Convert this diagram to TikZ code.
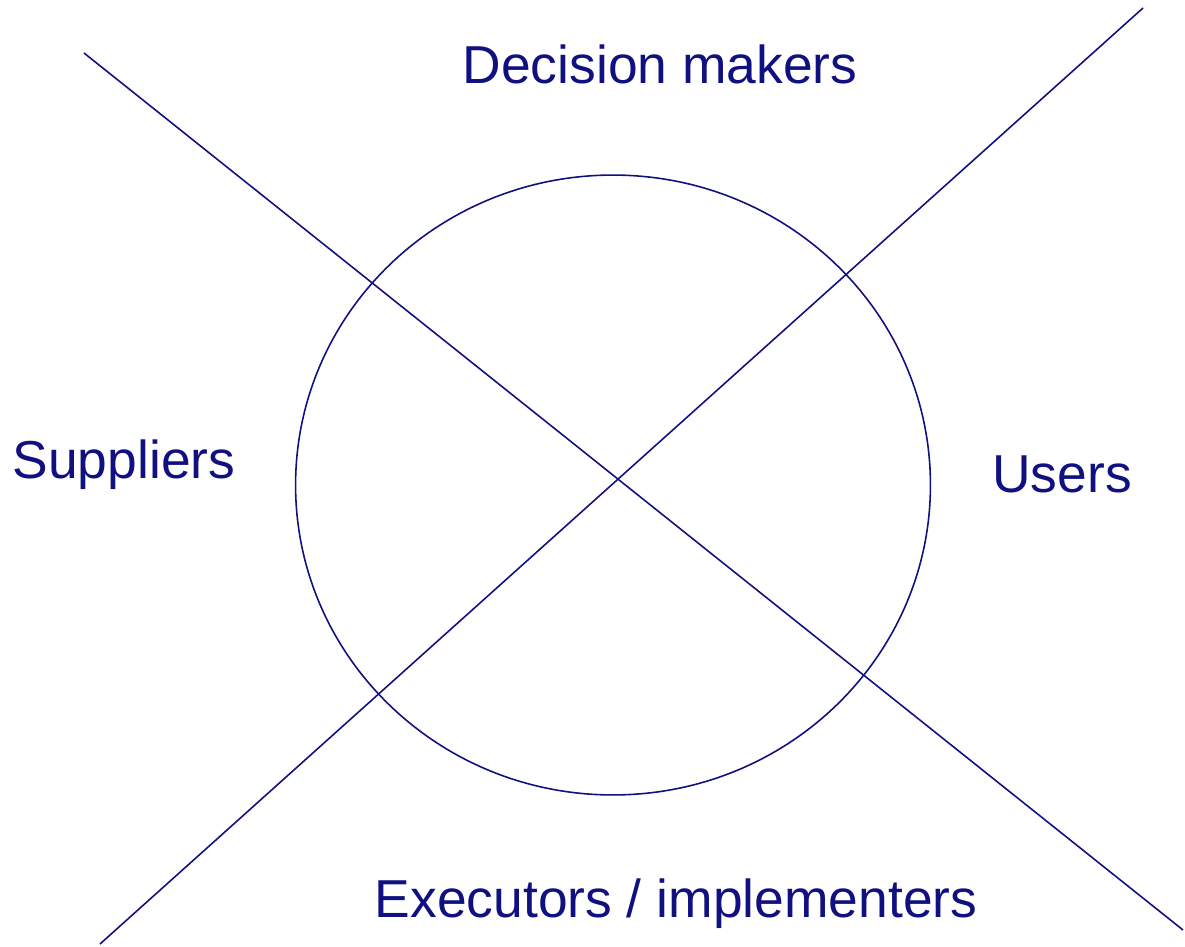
\documentclass[tikz,border=0pt]{standalone}
\usepackage{fontspec}
\setmainfont{Liberation Sans}
\definecolor{navy}{RGB}{16,16,128}

\begin{document}
\begin{tikzpicture}[x=0.02cm,y=-0.02cm,
    role/.style={text=navy,anchor=base,inner sep=0pt,font=\fontsize{30.4}{36}\selectfont}]
      \useasboundingbox (0,0) rectangle (1185,946);
      \draw[navy,line width=0.9pt] (613,485) coordinate (centre)
        circle[x radius=6.35cm, y radius=6.2cm];
      \coordinate (nw) at (84,53);
      \coordinate (se) at (1183,930);
      \coordinate (sw) at (100,944);
      \coordinate (ne) at (1143,8);
      \draw[navy,line width=0.9pt] (nw) -- (se) (sw) -- (ne);
      \node[role] (decision) at (660,84) {Decision makers};
      \node[role] (suppliers) at (124,478) {Suppliers};
      \node[role] (users) at (1062,492) {Users};
      \node[role] (executors) at (676,917) {Executors / implementers};
    \end{tikzpicture}
\end{document}
